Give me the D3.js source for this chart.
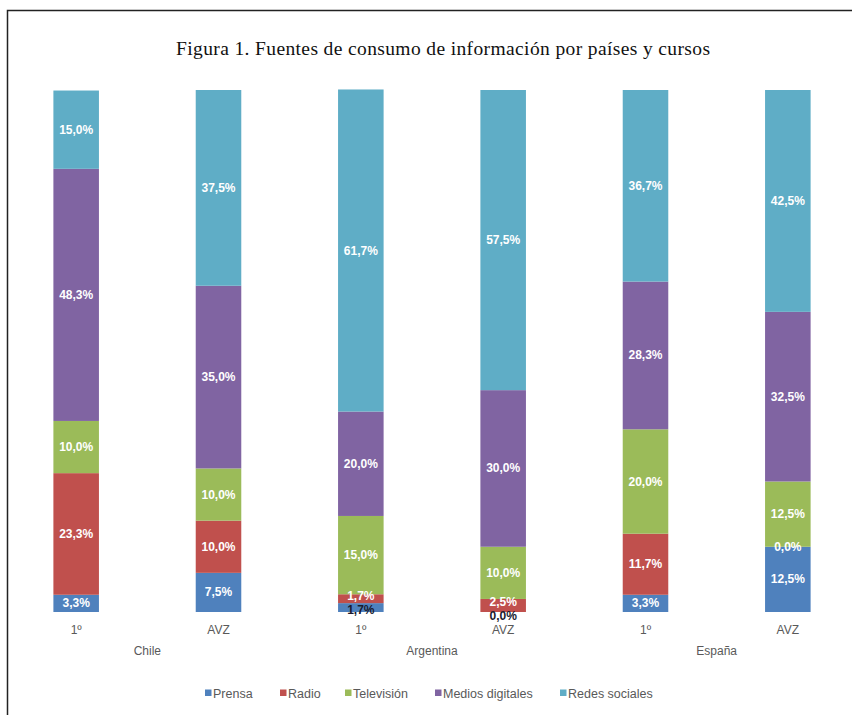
<!DOCTYPE html>
<html>
<head>
<meta charset="utf-8">
<script src="https://cdn.jsdelivr.net/npm/d3@7"></script>
<style>
  body { margin: 0; background: #ffffff; }
  svg { display: block; }
</style>
</head>
<body>
<svg id="chart" width="852" height="715"></svg>
<script>
// data (percent per source, per country / course)
var courses = ["1º", "AVZ", "1º", "AVZ", "1º", "AVZ"];
var countries = ["Chile", "Argentina", "España"];
var series = ["Prensa", "Radio", "Televisión", "Medios digitales", "Redes sociales"];
var prensa = [3.3, 7.5, 1.7, 0.0, 3.3, 12.5];
var radio = [23.3, 10.0, 1.7, 2.5, 11.7, 0.0];
var television = [10.0, 10.0, 15.0, 10.0, 20.0, 12.5];
var medios = [48.3, 35.0, 20.0, 30.0, 28.3, 32.5];
var redes = [15.0, 37.5, 61.7, 57.5, 36.7, 42.5];
var colors = ["#4f81bd", "#c0504d", "#9bbb59", "#8064a2", "#5fadc6"];

var svg = d3.select("#chart");

// frame (only top and left line are visible in the picture)
svg.append("path")
    .attr("d", "M7.5,715 V10.5 H852")
    .attr("fill", "none")
    .attr("stroke", "#222")
    .attr("stroke-width", 1.5);

svg.append("text")
    .attr("x", 176)
    .attr("y", 55)
    .attr("textLength", 534)
    .attr("lengthAdjust", "spacing")
    .attr("font-family", "Liberation Serif, serif")
    .attr("font-size", 19.5)
    .attr("fill", "#111")
    .text("Figura 1. Fuentes de consumo de información por países y cursos");

// build the table for d3.stack
var allValues = [prensa, radio, television, medios, redes];
var table = courses.map(function (c, i) {
    var row = { idx: i };
    series.forEach(function (s, k) { row[s] = allValues[k][i]; });
    return row;
});

var stack = d3.stack().keys(series);
var stacked = stack(table);

var x = d3.scaleBand()
    .domain(d3.range(courses.length))
    .range([5, 859])
    .paddingInner(0.68)
    .paddingOuter(0.34);

var y = d3.scaleLinear().domain([0, 100]).range([612, 90]);

var bars = svg.append("g");
stacked.forEach(function (layer, k) {
    bars.selectAll(null)
        .data(layer)
        .enter()
        .append("rect")
            .attr("x", function (d, i) { return x(i); })
            .attr("width", x.bandwidth())
            .attr("y", function (d) { return y(d[1]); })
            .attr("height", function (d) { return Math.max(0, y(d[0]) - y(d[1])); })
            .attr("fill", colors[k]);
});

// labels, centred in segments, pushed apart when too close (like Excel does)
var labelGap = 14;
var labels = [];
courses.forEach(function (c, i) {
    var list = stacked.map(function (layer, k) {
        var d = layer[i];
        return { i: i, k: k, v: allValues[k][i], cy: (y(d[0]) + y(d[1])) / 2 };
    });
    for (var k = 1; k < list.length; k++) {
        var a = list[k - 1], b = list[k];
        if (a.cy - b.cy < labelGap) {
            var mid = (a.cy + b.cy) / 2;
            a.cy = mid + labelGap / 2;
            b.cy = mid - labelGap / 2;
        }
    }
    labels = labels.concat(list);
});

svg.append("g").selectAll("text")
    .data(labels)
    .enter()
    .append("text")
        .attr("x", function (d) { return x(d.i) + x.bandwidth() / 2; })
        .attr("y", function (d) { return d.cy + 4; })
        .attr("text-anchor", "middle")
        .attr("font-family", "Liberation Sans, Arial, sans-serif")
        .attr("font-size", 12)
        .attr("font-weight", "bold")
        .attr("fill", function (d) { return d.cy > y(0) - 4 ? "#1a1a2e" : "#ffffff"; })
        .text(function (d) { return d3.format(".1f")(d.v).replace(".", ",") + "%"; });

// axis with course labels
var axis = svg.append("g")
    .attr("transform", "translate(0," + 612 + ")")
    .call(d3.axisBottom(x).tickSize(0).tickPadding(13).tickFormat(function (d) { return courses[d]; }));
axis.select(".domain").remove();
axis.selectAll("text")
    .attr("font-family", "Liberation Sans, Arial, sans-serif")
    .attr("font-size", 12)
    .attr("fill", "#595959");

// country labels
svg.append("g").selectAll("text")
    .data(countries)
    .enter()
    .append("text")
        .attr("x", function (d, i) { return (x(i * 2) + x(i * 2 + 1) + x.bandwidth()) / 2; })
        .attr("y", 655)
        .attr("text-anchor", "middle")
        .attr("font-family", "Liberation Sans, Arial, sans-serif")
        .attr("font-size", 12)
        .attr("fill", "#595959")
        .text(function (d) { return d; });

// legend
var legendX = [205, 280, 345, 435, 560];
var legend = svg.append("g").selectAll("g")
    .data(series)
    .enter()
    .append("g")
        .attr("transform", function (d, i) { return "translate(" + legendX[i] + ",693)"; });
legend.append("rect")
    .attr("x", 0).attr("y", -3.5)
    .attr("width", 6.5).attr("height", 6.5)
    .attr("fill", function (d, i) { return colors[i]; });
legend.append("text")
    .attr("x", 8)
    .attr("y", 4.5)
    .attr("font-family", "Liberation Sans, Arial, sans-serif")
    .attr("font-size", 12.5)
    .attr("fill", "#595959")
    .text(function (d) { return d; });
</script>
</body>
</html>
